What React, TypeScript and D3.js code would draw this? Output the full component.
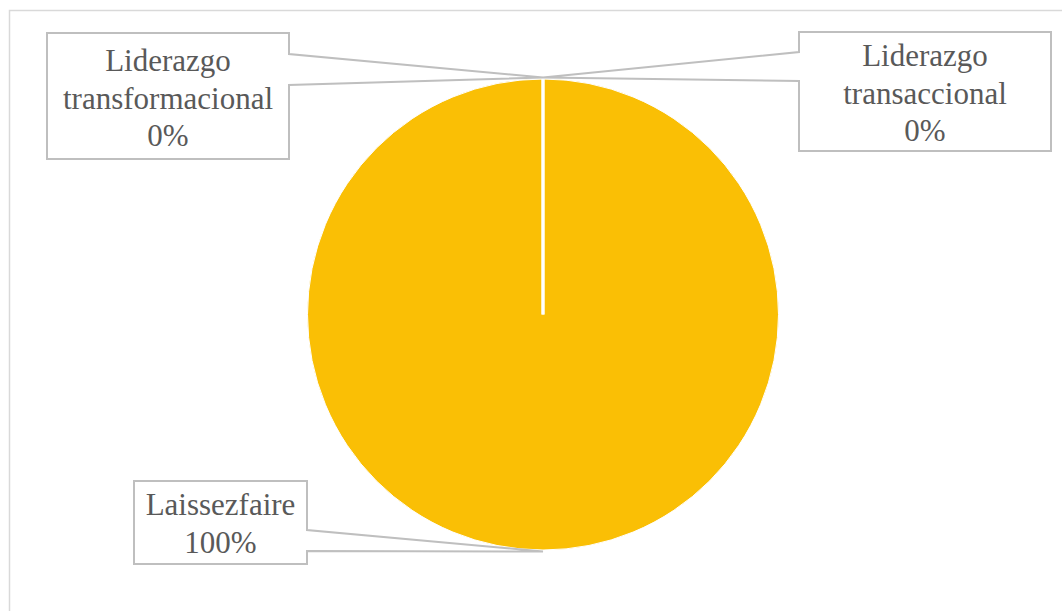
import React from "react";
import * as d3 from "d3";

const categories = ["Liderazgo transformacional", "Liderazgo transaccional", "Laissezfaire"];
const values = [0, 0, 100];
const labelLines = [
  ["Liderazgo", "transformacional", "0%"],
  ["Liderazgo", "transaccional", "0%"],
  ["Laissezfaire", "100%"],
];

const W = 1062;
const H = 611;
const cx = 543;
const cy = 314.5;
const R = 235.5;
const PIE = "#FABF05";
const BOX = "#BFBFBF";
const TXT = "#595959";

// label box layouts (layout only)
const boxes = [
  { x0: 47, y0: 33, x1: 289, y1: 159, side: "right", n1: 54, n2: 85, base: 71 },
  { x0: 799, y0: 32, x1: 1051, y1: 151, side: "left", n1: 52, n2: 81, base: 66 },
  { x0: 134, y0: 481, x1: 307, y1: 564, side: "right", n1: 530, n2: 551, base: 515 },
];

export default function App() {
  const pie = d3.pie<number>().sort(null).startAngle(0).endAngle(2 * Math.PI)(values);
  const arc = d3.arc<d3.PieArcDatum<number>>().innerRadius(0).outerRadius(R);
  const total = d3.sum(values);
  const fmt = d3.format(".0%");

  return (
    <svg width={W} height={H} style={{ position: "absolute", left: 0, top: 0, display: "block" }}>
      <rect x={0} y={0} width={W} height={H} fill="#fff" />
      <rect x={9.5} y={10.5} width={1070} height={620} fill="none" stroke="#D9D9D9" strokeWidth={1.5} />
      <g transform={`translate(${cx},${cy})`}>
        {pie.map((d, i) =>
          d.value > 0 ? (
            <path key={i} d={arc(d) || ""} fill={PIE} stroke="#fff" strokeWidth={1} />
          ) : null
        )}
        {pie.map((d, i) =>
          d.value === 0 ? (
            <line
              key={"z" + i}
              x1={0}
              y1={0}
              x2={Math.sin(d.startAngle) * R}
              y2={-Math.cos(d.startAngle) * R}
              stroke="#fff"
              strokeWidth={3}
            />
          ) : null
        )}
      </g>
      {pie.map((d, i) => {
        const b = boxes[i];
        const mid = (d.startAngle + d.endAngle) / 2;
        const ax = cx + Math.sin(mid) * (R + 1.5);
        const ay = cy - Math.cos(mid) * (R + 1.5);
        let p: string;
        if (b.side === "right") {
          p = `M${b.x0},${b.y0}H${b.x1}V${b.n1}L${ax},${ay}L${b.x1},${b.n2}V${b.y1}H${b.x0}Z`;
        } else {
          p = `M${b.x1},${b.y0}V${b.y1}H${b.x0}V${b.n2}L${ax},${ay}L${b.x0},${b.n1}V${b.y0}Z`;
        }
        const lines = labelLines[i].slice(0, -1).concat([fmt(d.value / total)]);
        const tx = (b.x0 + b.x1) / 2;
        return (
          <g key={"l" + i}>
            <path d={p} fill="#fff" stroke={BOX} strokeWidth={2} strokeLinejoin="miter" />
            <text
              textAnchor="middle"
              style={{ fontFamily: "Liberation Serif, DejaVu Serif, serif" }}
              fontSize={31}
              fill={TXT}
            >
              {lines.map((t, k) => (
                <tspan key={k} x={tx} y={b.base + k * 37.5}>
                  {t}
                </tspan>
              ))}
            </text>
          </g>
        );
      })}
    </svg>
  );
}
